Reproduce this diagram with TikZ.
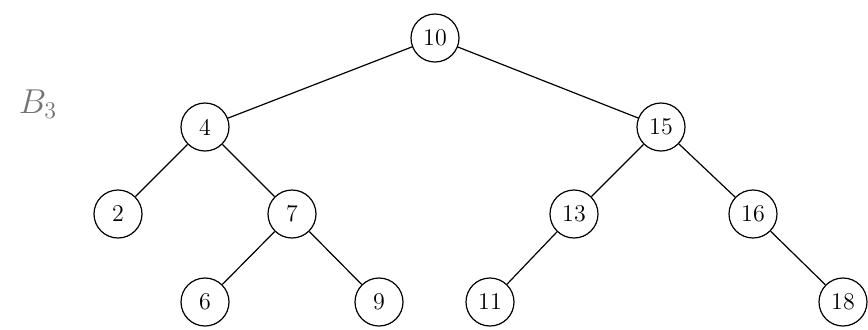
\documentclass[tikz,border=0pt]{standalone}
\begin{document}
\begin{tikzpicture}[x=0.5pt,y=-0.5pt,
  vtx/.style={circle,draw,line width=0.6pt,minimum size=24pt,inner sep=0pt,font=\fontsize{12}{14}\selectfont},
  edge/.style={line width=0.6pt}]
\useasboundingbox (0,0) rectangle (868,329);
\node[text=black!55,font=\fontsize{18}{21}\selectfont] (lbl) at (38,104) {$B_3$};
\node[vtx] (n10) at (435,38) {10};
\node[vtx] (n4) at (205,127) {4};
\node[vtx] (n15) at (661,127) {15};
\node[vtx] (n2) at (118,214) {2};
\node[vtx] (n7) at (292,214) {7};
\node[vtx] (n13) at (574,214) {13};
\node[vtx] (n16) at (753,214) {16};
\node[vtx] (n6) at (205,302) {6};
\node[vtx] (n9) at (379,302) {9};
\node[vtx] (n11) at (490,302) {11};
\node[vtx] (n18) at (843,302) {18};
\draw[edge] (n10) -- (n4);
\draw[edge] (n10) -- (n15);
\draw[edge] (n4) -- (n2);
\draw[edge] (n4) -- (n7);
\draw[edge] (n7) -- (n6);
\draw[edge] (n7) -- (n9);
\draw[edge] (n15) -- (n13);
\draw[edge] (n15) -- (n16);
\draw[edge] (n13) -- (n11);
\draw[edge] (n16) -- (n18);
\end{tikzpicture}
\end{document}
